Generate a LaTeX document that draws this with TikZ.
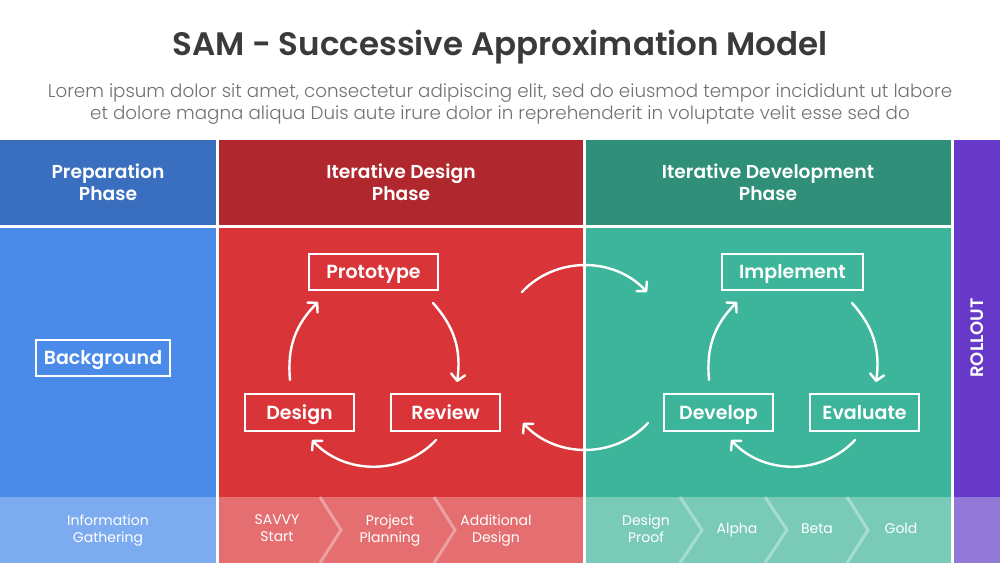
\documentclass[tikz,border=0pt]{standalone}
\usepackage{fontspec}
\setmainfont{Poppins}[BoldFont={Poppins SemiBold}]
\newfontfamily\poplight{Poppins Light}
\usetikzlibrary{arrows.meta}
\definecolor{titlegray}{HTML}{3A3A3A}
\definecolor{subgray}{HTML}{727272}
\definecolor{bluehead}{HTML}{3A6FBF}
\definecolor{bluebody}{HTML}{4A8AE8}
\definecolor{bluefoot}{HTML}{7DABF0}
\definecolor{redhead}{HTML}{B0282D}
\definecolor{redbody}{HTML}{D93539}
\definecolor{redfoot}{HTML}{E46E70}
\definecolor{greenhead}{HTML}{2F8F78}
\definecolor{greenbody}{HTML}{3DB59A}
\definecolor{greenfoot}{HTML}{79CBB8}
\definecolor{purplebody}{HTML}{6639C8}
\definecolor{purplefoot}{HTML}{9279D8}
\begin{document}
\begin{tikzpicture}[x=1pt,y=1pt,
  headtext/.style={text=white, align=center, font=\bfseries\fontsize{18.7}{22}\selectfont},
  stepbox/.style={draw=white, line width=1.8pt, text=white, minimum height=36pt, inner sep=0pt, text height=13.5pt, text depth=0pt, font=\bfseries\fontsize{19}{22}\selectfont},
  foottext/.style={text=white, align=center, text depth=3.5pt, font=\fontsize{14}{17}\selectfont},
  chev/.style={draw=white, draw opacity=0.35, line width=3pt},
  arr/.style={draw=white, line width=2.4pt, line cap=round, -{Straight Barb[length=6.5pt,width=14pt,round]}}
]
\useasboundingbox (0,0) rectangle (1000,-563);
\fill[white] (0,0) rectangle (1000,-563);

% title
\node[text=titlegray, anchor=base, font=\bfseries\fontsize{32.5}{38}\selectfont] (title) at (500,-55) {SAM - Successive Approximation Model};
\node[text=subgray, align=center, font=\poplight\fontsize{18.3}{22}\selectfont] (sub) at (500,-104)
  {Lorem ipsum dolor sit amet, consectetur adipiscing elit, sed do eiusmod tempor incididunt ut labore\\
   et dolore magna aliqua Duis aute irure dolor in reprehenderit in voluptate velit esse sed do};

% columns
\fill[bluehead] (0,-140) rectangle (216,-225);
\fill[bluebody] (0,-228) rectangle (216,-563);
\fill[bluefoot] (0,-497) rectangle (216,-563);
\fill[redhead] (219,-140) rectangle (583,-225);
\fill[redbody] (219,-228) rectangle (583,-563);
\fill[redfoot] (219,-497) rectangle (583,-563);
\fill[greenhead] (586,-140) rectangle (951,-225);
\fill[greenbody] (586,-228) rectangle (951,-563);
\fill[greenfoot] (586,-497) rectangle (951,-563);
\fill[purplebody] (954,-140) rectangle (1000,-563);
\fill[purplefoot] (954,-497) rectangle (1000,-563);

% headers
\node[headtext] (h1) at (108,-182) {Preparation\\Phase};
\node[headtext] (h2) at (401,-182) {Iterative Design\\Phase};
\node[headtext] (h3) at (768,-182) {Iterative Development\\Phase};
\node[text=white, rotate=90, font=\bfseries\fontsize{18}{20}\selectfont] (rollout) at (977,-338) {ROLLOUT};

% boxes
\node[stepbox, minimum width=134pt] (background) at (103,-358) {Background};
\node[stepbox, minimum width=129pt] (prototype) at (373.5,-272) {Prototype};
\node[stepbox, minimum width=109pt, minimum height=37pt] (design) at (299.5,-412.5) {Design};
\node[stepbox, minimum width=109pt, minimum height=37pt] (review) at (445.5,-412.5) {Review};
\node[stepbox, minimum width=141pt] (implement) at (792.5,-272) {Implement};
\node[stepbox, minimum width=109pt, minimum height=37pt] (develop) at (718.5,-412.5) {Develop};
\node[stepbox, minimum width=109pt, minimum height=37pt] (evaluate) at (864.5,-412.5) {Evaluate};

% cycle coordinates
\coordinate (a1s) at (290,-380); \coordinate (a1e) at (318,-302);
\coordinate (a2s) at (433,-303); \coordinate (a2e) at (457,-382);
\coordinate (a3s) at (436,-440); \coordinate (a3e) at (312,-440);
\coordinate (g1s) at (709,-380); \coordinate (g1e) at (737,-302);
\coordinate (g2s) at (852,-303); \coordinate (g2e) at (876,-382);
\coordinate (g3s) at (855,-440); \coordinate (g3e) at (731,-440);
\coordinate (b1s) at (522,-292); \coordinate (b1e) at (647,-292);
\coordinate (b2s) at (648,-423); \coordinate (b2e) at (523,-423);

\draw[arr] (a1s) to[bend left=25] (a1e);
\draw[arr] (a2s) to[bend left=25] (a2e);
\draw[arr] (a3s) to[bend left=47] (a3e);
\draw[arr] (g1s) to[bend left=25] (g1e);
\draw[arr] (g2s) to[bend left=25] (g2e);
\draw[arr] (g3s) to[bend left=47] (g3e);
\draw[arr] (b1s) to[bend left=47] (b1e);
\draw[arr] (b2s) to[bend left=47] (b2e);

% footer chevrons
\draw[chev] (320,-497) -- (341,-530) -- (320,-563);
\draw[chev] (434,-497) -- (455,-530) -- (434,-563);
\draw[chev] (680,-497) -- (702,-530) -- (680,-563);
\draw[chev] (765,-497) -- (787,-530) -- (765,-563);
\draw[chev] (847,-497) -- (868,-530) -- (847,-563);

% footer texts
\node[foottext] (f1) at (108,-530) {Information\\Gathering};
\node[foottext] (f2) at (277,-530) {SAVVY\\Start};
\node[foottext] (f3) at (390,-530) {Project\\Planning};
\node[foottext] (f4) at (496,-530) {Additional\\Design};
\node[foottext] (f5) at (646,-530) {Design\\Proof};
\node[foottext] (f6) at (737,-530) {Alpha};
\node[foottext] (f7) at (817,-530) {Beta};
\node[foottext] (f8) at (901,-530) {Gold};
\end{tikzpicture}
\end{document}
